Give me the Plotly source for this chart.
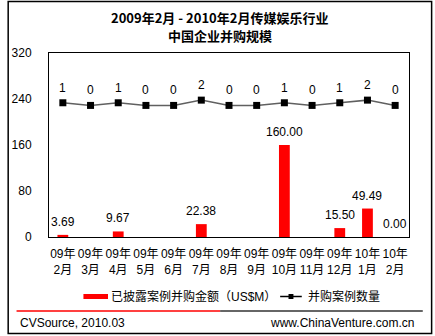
import plotly.graph_objects as go

# Monthly M&A in China's media & entertainment sector, Feb 2009 - Feb 2010
months = ["09年<br>2月", "09年<br>3月", "09年<br>4月", "09年<br>5月", "09年<br>6月",
          "09年<br>7月", "09年<br>8月", "09年<br>9月", "09年<br>10月", "09年<br>11月",
          "09年<br>12月", "10年<br>1月", "10年<br>2月"]
amount_musd = [3.69, None, 9.67, None, None, 22.38, None, None, 160.00, None, 15.50, 49.49, 0.00]
deal_count = [1, 0, 1, 0, 0, 2, 0, 0, 1, 0, 1, 2, 0]

amount_name = "已披露案例并购金额（US$M）"
count_name = "并购案例数量"

W, H = 435, 336
L, R, T, B = 43, 26, 53, 99
PW, PH = W - L - R, H - T - B

FONT = "Liberation Sans, Arial, Noto Sans CJK SC, sans-serif"
CJK = "Noto Sans CJK SC, Liberation Sans, sans-serif"


def px(x):
    return (x - L) / PW


def py(y):
    return (H - B - y) / PH


fig = go.Figure()

fig.add_trace(go.Bar(
    x=months, y=[v if v is not None else 0 for v in amount_musd],
    name=amount_name, marker=dict(color="#ff0000", line=dict(width=0)),
    width=0.39, showlegend=False,
))

fig.add_trace(go.Scatter(
    x=months, y=deal_count, name=count_name, yaxis="y2",
    mode="lines+markers",
    line=dict(color="#606060", width=1.5),
    marker=dict(symbol="square", size=7, color="#000000"),
    showlegend=False,
))

annotations = []
# value labels above the bars
for m, v in zip(months, amount_musd):
    if v is None:
        continue
    annotations.append(dict(
        x=m, y=v, xref="x", yref="y", text=f"{v:.2f}", showarrow=False,
        yanchor="bottom", yshift=4, font=dict(family=FONT, size=12, color="#000000"),
    ))
# count labels above the markers
for m, c in zip(months, deal_count):
    annotations.append(dict(
        x=m, y=c, xref="x", yref="y2", text=str(c), showarrow=False,
        yanchor="middle", yshift=15, font=dict(family=FONT, size=12, color="#000000"),
    ))

# title
annotations.append(dict(
    x=px(216), y=py(17), xref="paper", yref="paper", showarrow=False,
    text="<b>2009年2月 - 2010年2月传媒娱乐行业</b>", xanchor="center", yanchor="middle",
    font=dict(family=CJK, size=13, color="#000000"),
))
annotations.append(dict(
    x=px(217), y=py(35), xref="paper", yref="paper", showarrow=False,
    text="<b>中国企业并购规模</b>", xanchor="center", yanchor="middle",
    font=dict(family=CJK, size=13, color="#000000"),
))

# legend
annotations.append(dict(
    x=px(104), y=py(296.5), xref="paper", yref="paper", showarrow=False,
    text=amount_name, xanchor="left", yanchor="middle",
    font=dict(family=FONT, size=12, color="#000000"),
))
annotations.append(dict(
    x=px(304), y=py(296.5), xref="paper", yref="paper", showarrow=False,
    text=count_name, xanchor="left", yanchor="middle",
    font=dict(family=FONT, size=12, color="#000000"),
))

# footer
annotations.append(dict(
    x=px(11), y=py(323), xref="paper", yref="paper", showarrow=False,
    text="CVSource, 2010.03", xanchor="left", yanchor="middle",
    font=dict(family=FONT, size=12, color="#000000"),
))
annotations.append(dict(
    x=px(416), y=py(323), xref="paper", yref="paper", showarrow=False,
    text="www.ChinaVenture.com.cn", xanchor="right", yanchor="middle",
    font=dict(family=FONT, size=12, color="#000000"),
))

shapes = [
    # outer frame
    dict(type="rect", xref="paper", yref="paper", x0=px(1.5), x1=px(432), y0=py(1.5), y1=py(333.5),
         line=dict(color="#000000", width=1.5), fillcolor="rgba(0,0,0,0)", layer="below"),
    # legend swatches
    dict(type="rect", xref="paper", yref="paper", x0=px(78), x1=px(103), y0=py(294), y1=py(299),
         line=dict(width=0), fillcolor="#ff0000"),
    dict(type="line", xref="paper", yref="paper", x0=px(278), x1=px(300), y0=py(296.5), y1=py(296.5),
         line=dict(color="#000000", width=1.5)),
    dict(type="rect", xref="paper", yref="paper", x0=px(286.5), x1=px(291.5), y0=py(294), y1=py(299),
         line=dict(width=0), fillcolor="#000000"),
    # footer separator
    dict(type="line", xref="paper", yref="paper", x0=px(10), x1=px(217), y0=py(311), y1=py(311),
         line=dict(color="#ff0000", width=1.5)),
    dict(type="line", xref="paper", yref="paper", x0=px(217), x1=px(423), y0=py(311), y1=py(311),
         line=dict(color="#333333", width=1.5)),
]

fig.update_layout(
    width=W, height=H,
    margin=dict(l=L, r=R, t=T, b=B, pad=0),
    paper_bgcolor="#ffffff", plot_bgcolor="#ffffff",
    font=dict(family=FONT, size=12, color="#000000"),
    showlegend=False,
    bargap=0.6,
    xaxis=dict(
        type="category", range=[-0.5, 12.5], showgrid=False,
        showline=True, mirror=True, linecolor="#000000", linewidth=1,
        ticks="", ticklabelstandoff=6, tickangle=0,
        tickfont=dict(family=FONT, size=12, color="#000000"),
    ),
    yaxis=dict(
        range=[0, 320], tickvals=[0, 80, 160, 240, 320], showgrid=False, zeroline=False,
        showline=True, mirror=True, linecolor="#000000", linewidth=1,
        ticks="", ticklabelstandoff=14,
        tickfont=dict(family=FONT, size=12, color="#000000"),
    ),
    yaxis2=dict(
        overlaying="y", range=[-49.7, 19.8], visible=False,
    ),
    annotations=annotations,
    shapes=shapes,
)

fig.write_html("out.html")
